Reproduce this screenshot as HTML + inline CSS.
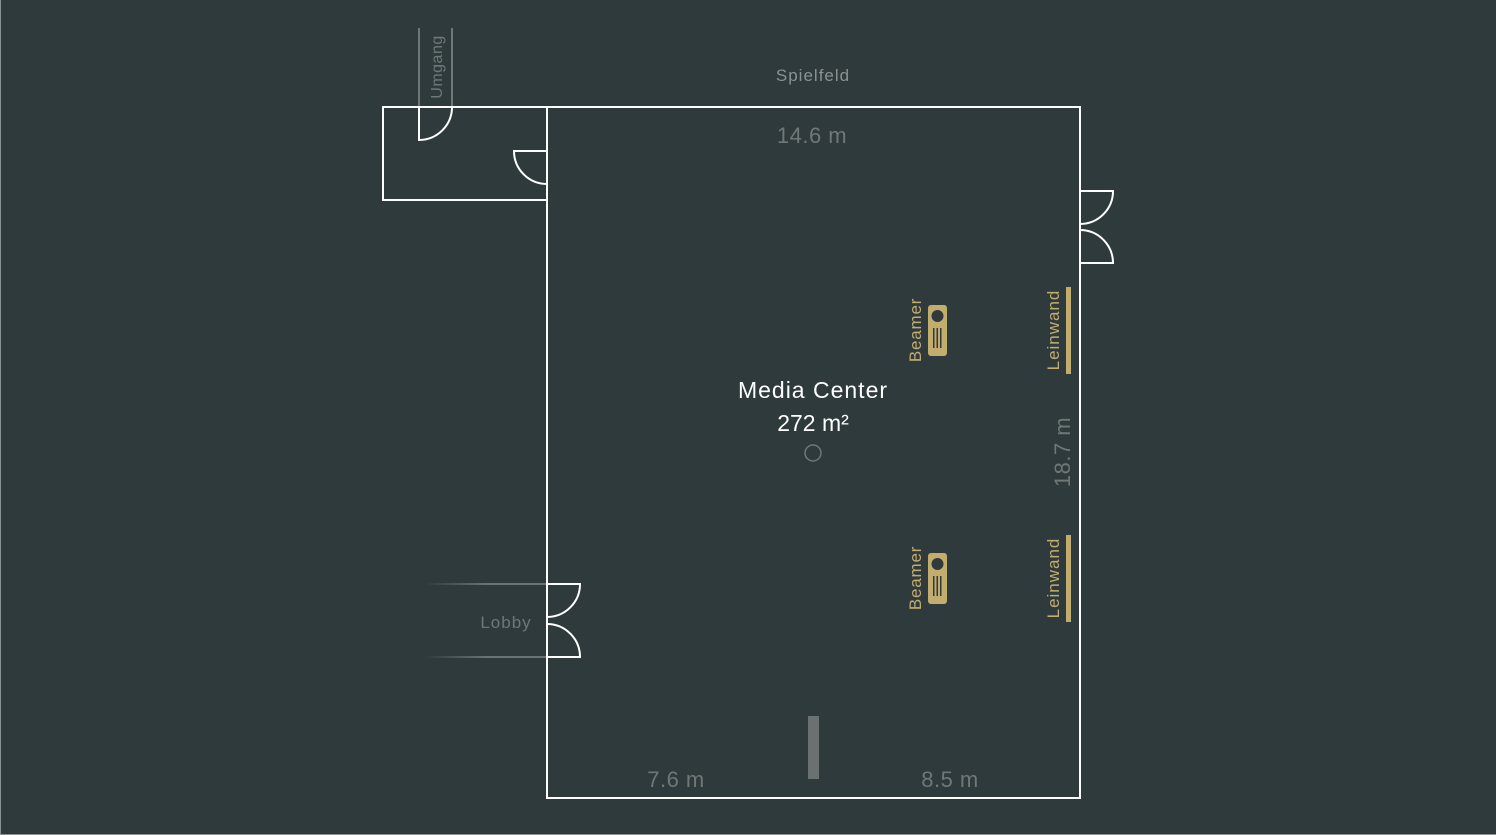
<!DOCTYPE html>
<html><head><meta charset="utf-8"><style>
html,body{margin:0;padding:0;background:#2f3a3c;}
svg{display:block;}
text{font-family:"Liberation Sans","DejaVu Sans",sans-serif;}
</style></head><body>
<svg width="1496" height="835" viewBox="0 0 1496 835" xmlns="http://www.w3.org/2000/svg">
<defs>
<linearGradient id="g" gradientUnits="userSpaceOnUse" x1="425" y1="0" x2="547" y2="0">
<stop offset="0" stop-color="#6a7373" stop-opacity="0"/>
<stop offset="0.5" stop-color="#6a7373"/>
<stop offset="1" stop-color="#6a7373"/>
</linearGradient>
</defs>
<rect width="1496" height="835" fill="#2f3a3c"/>
<line x1="0.5" y1="0" x2="0.5" y2="835" stroke="#8a9292" stroke-width="1"/>
<line x1="0" y1="834.5" x2="1496" y2="834.5" stroke="#8a9292" stroke-width="1"/>
<line x1="419" y1="28" x2="419" y2="107" stroke="#6f7777" stroke-width="2"/>
<line x1="452" y1="28" x2="452" y2="107" stroke="#6f7777" stroke-width="2"/>
<text transform="translate(442,67) rotate(-90)" text-anchor="middle" font-size="16" fill="#6f7777" letter-spacing="0.5">Umgang</text>
<rect x="425" y="583" width="122" height="2" fill="url(#g)"/>
<rect x="425" y="656" width="122" height="2" fill="url(#g)"/>
<g fill="none" stroke="#ffffff" stroke-width="2">
<rect x="547" y="107" width="533" height="691"/>
<rect x="383" y="107" width="164" height="93"/>
<path d="M419 107 V140 A33 33 0 0 0 452 107"/>
<path d="M547 151 H514 A33 33 0 0 0 547 184"/>
<path d="M1080 191 H1113 A33 33 0 0 1 1080 224"/>
<path d="M1080 263 H1113 A33 33 0 0 0 1080 230"/>
<path d="M547 584 H580 A33 33 0 0 1 547 617"/>
<path d="M547 657 H580 A33 33 0 0 0 547 624"/>
</g>
<text x="813" y="81" text-anchor="middle" font-size="17" fill="#8a9292" letter-spacing="1">Spielfeld</text>
<text x="812" y="143" text-anchor="middle" font-size="22" fill="#6f7777" letter-spacing="0.5">14.6 m</text>
<text x="506" y="628" text-anchor="middle" font-size="17" fill="#6f7777" letter-spacing="1">Lobby</text>
<text x="813" y="398" text-anchor="middle" font-size="23" fill="#ffffff" letter-spacing="1">Media Center</text>
<text x="813" y="431" text-anchor="middle" font-size="23" fill="#ffffff">272 m²</text>
<circle cx="813" cy="453" r="8" fill="none" stroke="#6f7777" stroke-width="1.5"/>
<text transform="translate(1070,452) rotate(-90)" text-anchor="middle" font-size="22" fill="#6f7777" letter-spacing="0.5">18.7 m</text>
<text x="676" y="787" text-anchor="middle" font-size="22" fill="#6f7777" letter-spacing="0.5">7.6 m</text>
<text x="950" y="787" text-anchor="middle" font-size="22" fill="#6f7777" letter-spacing="0.5">8.5 m</text>
<rect x="808" y="716" width="11" height="63" fill="#6b7171"/>
<g>
<rect x="928" y="305" width="19" height="51" rx="3" fill="#c2ad6e"/>
<circle cx="937.5" cy="316" r="6" fill="#2f3a3c"/>
<rect x="933" y="328" width="1.5" height="20" fill="#2f3a3c"/>
<rect x="936.5" y="328" width="1.5" height="20" fill="#2f3a3c"/>
<rect x="940" y="328" width="1.5" height="20" fill="#2f3a3c"/>
<text transform="translate(921,330) rotate(-90)" text-anchor="middle" font-size="17" fill="#c2ad6e" letter-spacing="0.8">Beamer</text>
<rect x="1066" y="287" width="5" height="87" fill="#c2ad6e"/>
<text transform="translate(1059,330) rotate(-90)" text-anchor="middle" font-size="17" fill="#c2ad6e" letter-spacing="1">Leinwand</text>
</g>
<g transform="translate(0,248)">
<rect x="928" y="305" width="19" height="51" rx="3" fill="#c2ad6e"/>
<circle cx="937.5" cy="316" r="6" fill="#2f3a3c"/>
<rect x="933" y="328" width="1.5" height="20" fill="#2f3a3c"/>
<rect x="936.5" y="328" width="1.5" height="20" fill="#2f3a3c"/>
<rect x="940" y="328" width="1.5" height="20" fill="#2f3a3c"/>
<text transform="translate(921,330) rotate(-90)" text-anchor="middle" font-size="17" fill="#c2ad6e" letter-spacing="0.8">Beamer</text>
<rect x="1066" y="287" width="5" height="87" fill="#c2ad6e"/>
<text transform="translate(1059,330) rotate(-90)" text-anchor="middle" font-size="17" fill="#c2ad6e" letter-spacing="1">Leinwand</text>
</g>
</svg>
</body></html>
